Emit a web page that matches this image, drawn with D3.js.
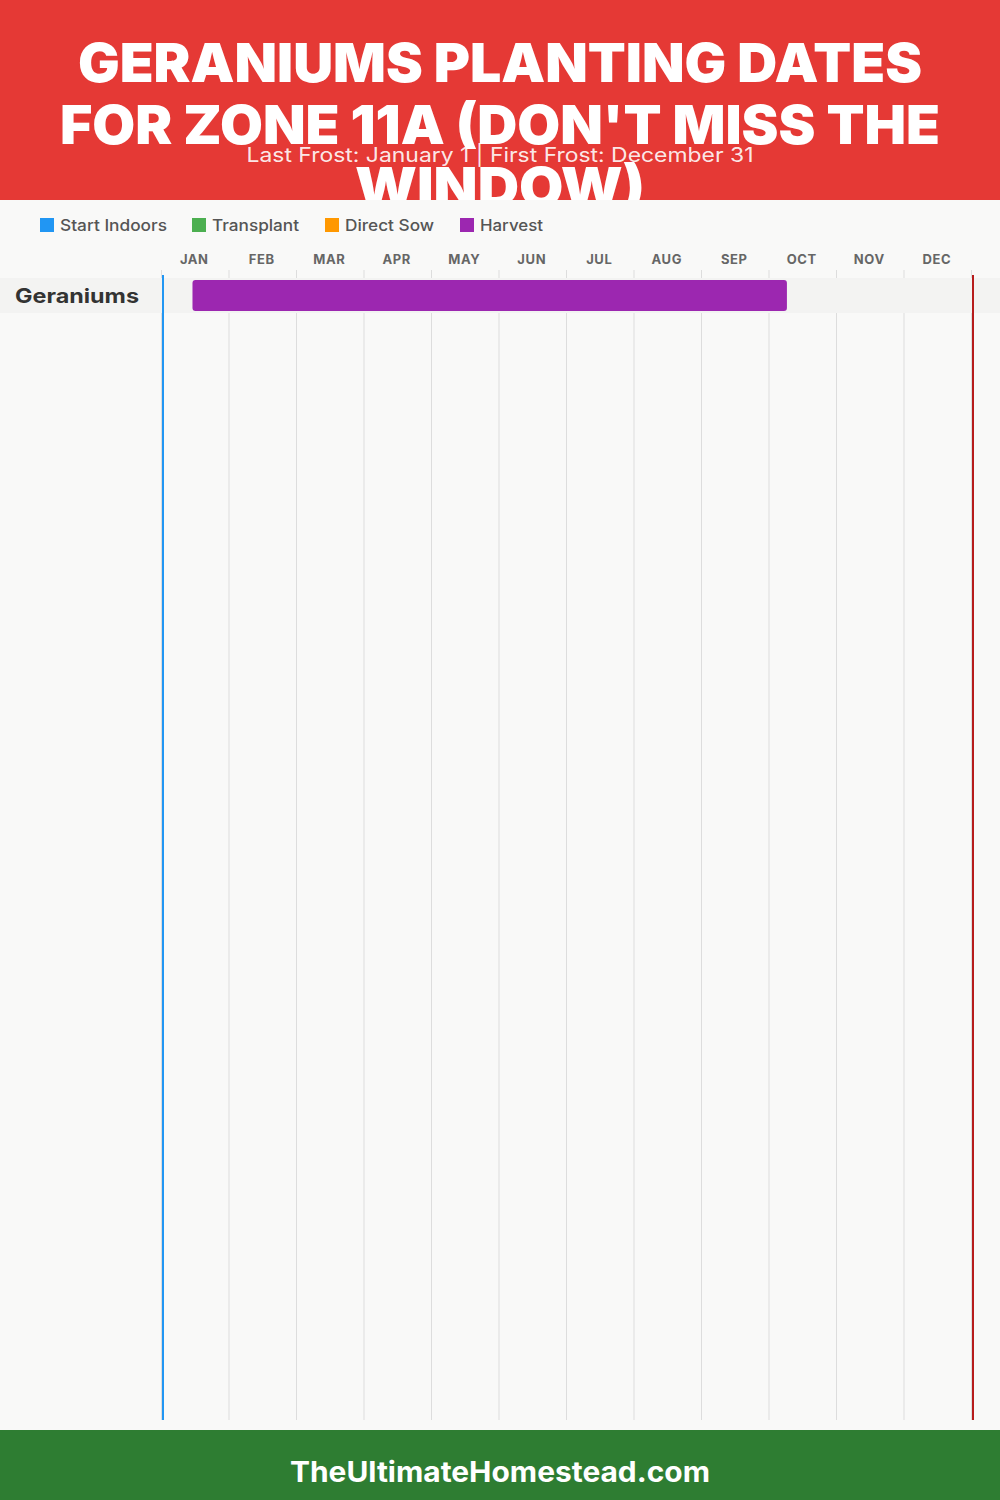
<!DOCTYPE html>
<html>
<head>
<meta charset="utf-8">
<script src="https://cdn.jsdelivr.net/npm/d3@7"></script>
<style>
  html, body { margin: 0; padding: 0; background: #f9f9f8; }
  svg { display: block; }
</style>
</head>
<body>
<svg id="chart" width="1000" height="1500"></svg>
<script>
// ---- data ----
const titleLines = ["GERANIUMS PLANTING DATES", "FOR ZONE 11A (DON'T MISS THE", "WINDOW)"];
const subtitle = "Last Frost: January 1 | First Frost: December 31";
const months = ["JAN","FEB","MAR","APR","MAY","JUN","JUL","AUG","SEP","OCT","NOV","DEC"];
const monthDays = [31,29,31,30,31,30,31,31,30,31,30,31];
const legendNames = ["Start Indoors","Transplant","Direct Sow","Harvest"];
const legendColors = ["#2196f3","#4caf50","#ff9800","#9c27b0"];
const crops = ["Geraniums"];
// [crop, activity, startMonth, startDay, endMonth, endDay]  (months 1-based)
const periods = [["Geraniums","Harvest",1,15,10,9]];
const lastFrost = [1,1];
const firstFrost = [12,31];
const footerText = "TheUltimateHomestead.com";

// ---- drawing ----
const svg = d3.select("#chart");
const W = 1000, H = 1500;
const left = 162, right = 972;
const x = d3.scaleLinear().domain([0,12]).range([left,right]);
const monthPos = (m,d,end) => (m-1) + (end ? d : d-1)/monthDays[m-1];
const color = d3.scaleOrdinal().domain(legendNames).range(legendColors);
const rowTop = 278, rowH = 35;
const y = d3.scaleBand().domain(crops).range([rowTop, rowTop + rowH*crops.length]);

// background
svg.append("rect").attr("width",W).attr("height",H).attr("fill","#f9f9f8");

// header
svg.append("rect").attr("width",W).attr("height",200).attr("fill","#e53935");
const titleWidths = [844, 880, 290];
const titleBase = [82, 144, 206];
svg.append("g").selectAll("text").data(titleLines).join("text")
  .attr("x",500).attr("y",(d,i)=>titleBase[i])
  .attr("text-anchor","middle")
  .attr("font-family","Inter, 'Open Sans', sans-serif")
  .attr("font-weight",900).attr("font-size",54)
  .attr("fill","#fff")
  .attr("textLength",(d,i)=>titleWidths[i]).attr("lengthAdjust","spacingAndGlyphs")
  .text(d=>d);
// chart background covers overflowing title
svg.append("rect").attr("y",200).attr("width",W).attr("height",1230).attr("fill","#f9f9f8");
svg.append("text").attr("x",500).attr("y",162).attr("text-anchor","middle")
  .attr("font-family","Inter, sans-serif").attr("font-weight",400).attr("font-size",20)
  .attr("fill","#fff").attr("fill-opacity",0.9)
  .attr("textLength",507).attr("lengthAdjust","spacingAndGlyphs")
  .text(subtitle);

// legend
const legX = [40,192,325,460];
const legW = [107,87,89,63];
const leg = svg.append("g").selectAll("g").data(legendNames).join("g")
  .attr("transform",(d,i)=>`translate(${legX[i]},218)`);
leg.append("rect").attr("width",14).attr("height",14).attr("fill",d=>color(d));
leg.append("text").attr("x",20).attr("y",13)
  .attr("font-family","Inter, sans-serif").attr("font-weight",500).attr("font-size",16).attr("fill","#555")
  .attr("textLength",(d,i)=>legW[i]).attr("lengthAdjust","spacingAndGlyphs")
  .text(d=>d);

// grid lines at month boundaries
svg.append("g").selectAll("line").data(d3.range(13)).join("line")
  .attr("x1",d=>x(d)-0.5).attr("x2",d=>x(d)-0.5).attr("y1",270).attr("y2",1420)
  .attr("stroke","#dddddd").attr("stroke-width",1);

// row bands (cover grid lines)
svg.append("g").selectAll("rect").data(crops).join("rect")
  .attr("x",0).attr("width",W).attr("y",d=>y(d)).attr("height",y.bandwidth())
  .attr("fill","#f3f3f2");

// month labels (top axis)
const axis = d3.axisTop(x).tickValues(d3.range(12).map(i=>i+0.5))
  .tickFormat((d,i)=>months[i]).tickSize(0).tickPadding(0);
const ag = svg.append("g").attr("transform","translate(-2,264)").call(axis);
ag.select(".domain").remove();
ag.selectAll("text").attr("font-family","Inter, sans-serif").attr("font-weight",700)
  .attr("font-size",13).attr("fill","#666").attr("dy",0).attr("letter-spacing",0.6);

// crop labels
svg.append("g").selectAll("text").data(crops).join("text")
  .attr("x",15).attr("y",d=>y(d)+y.bandwidth()/2+7)
  .attr("font-family","Inter, sans-serif").attr("font-weight",700).attr("font-size",20)
  .attr("fill","#333").attr("textLength",124).attr("lengthAdjust","spacingAndGlyphs")
  .text(d=>d);

// bars
svg.append("g").selectAll("rect").data(periods).join("rect")
  .attr("x",d=>x(monthPos(d[2],d[3],false)))
  .attr("width",d=>x(monthPos(d[4],d[5],false))-x(monthPos(d[2],d[3],false)))
  .attr("y",d=>y(d[0])+2).attr("height",y.bandwidth()-4)
  .attr("rx",3).attr("fill",d=>color(d[1]));

// frost lines
svg.append("line").attr("x1",x(monthPos(lastFrost[0],lastFrost[1],false))+1)
  .attr("x2",x(monthPos(lastFrost[0],lastFrost[1],false))+1)
  .attr("y1",275).attr("y2",1420).attr("stroke","#2196f3").attr("stroke-width",2);
svg.append("line").attr("x1",x(monthPos(firstFrost[0],firstFrost[1],true))+1)
  .attr("x2",x(monthPos(firstFrost[0],firstFrost[1],true))+1)
  .attr("y1",275).attr("y2",1420).attr("stroke","#b71c1c").attr("stroke-width",2);

// footer
svg.append("rect").attr("y",1430).attr("width",W).attr("height",70).attr("fill","#2e7d32");
svg.append("text").attr("x",500).attr("y",1482).attr("text-anchor","middle")
  .attr("font-family","Inter, sans-serif").attr("font-weight",700).attr("font-size",28)
  .attr("fill","#fff").attr("textLength",420).attr("lengthAdjust","spacingAndGlyphs")
  .text(footerText);
</script>
</body>
</html>
